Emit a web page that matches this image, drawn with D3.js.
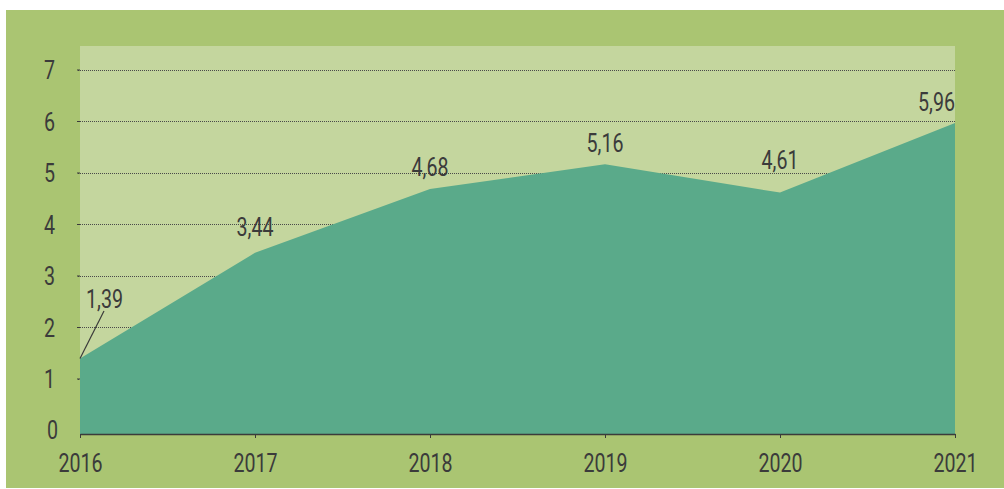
<!DOCTYPE html>
<html>
<head>
<meta charset="utf-8">
<script src="https://cdn.jsdelivr.net/npm/d3@7"></script>
<style>
  body { margin: 0; background: #ffffff; }
  text { font-family: "Roboto", "Liberation Sans", sans-serif; fill: #3b3b3b; }
</style>
</head>
<body>
<svg width="1004" height="489"></svg>
<script>
// chart data
var years = [2016, 2017, 2018, 2019, 2020, 2021];
var values = [1.39, 3.44, 4.68, 5.16, 4.61, 5.96];
var valueLabels = ['1,39', '3,44', '4,68', '5,16', '4,61', '5,96'];
var yTicks = [0, 1, 2, 3, 4, 5, 6, 7];

var svg = d3.select('svg');
var plot = {left: 80, right: 955, top: 46, bottom: 434};
var fontSize = '25px';

// outer frame + plot background
svg.append('rect')
    .attr('x', 6).attr('y', 10)
    .attr('width', 998).attr('height', 478)
    .style('fill', '#aac572');
svg.append('rect')
    .attr('x', plot.left).attr('y', plot.top)
    .attr('width', plot.right - plot.left).attr('height', plot.bottom - plot.top)
    .style('fill', '#c4d69e');

var xScale = d3.scalePoint()
    .domain(years)
    .range([plot.left, plot.right]);
var yScale = d3.scaleLinear()
    .domain([0, 7])
    .range([430, 69.5]);

// dotted gridlines
svg.append('g')
    .attr('class', 'y grid')
    .selectAll('line')
    .data(yTicks.filter(function(d) { return d > 0; }))
    .enter()
    .append('line')
    .attr('x1', plot.left - 2)
    .attr('x2', plot.right)
    .attr('y1', function(d) { return Math.round(yScale(d)) + 0.5; })
    .attr('y2', function(d) { return Math.round(yScale(d)) + 0.5; })
    .style('stroke', '#4a4a4a')
    .style('stroke-width', 1)
    .style('stroke-dasharray', '1,1');

// area
var area = d3.area()
    .x(function(d, i) { return xScale(years[i]); })
    .y0(plot.bottom)
    .y1(function(d) { return yScale(d); });

svg.append('path')
    .datum(values)
    .attr('d', area)
    .style('fill', '#5aaa8a');

// y axis labels
var yAxis = d3.axisLeft(yScale)
    .tickValues(yTicks.filter(function(d) { return d > 0; }))
    .tickSize(3)
    .tickPadding(22)
    .tickFormat(d3.format('d'));
var yG = svg.append('g')
    .attr('class', 'y axis')
    .attr('transform', 'translate(' + plot.left + ',0)')
    .call(yAxis);
yG.select('.domain').remove();
yG.selectAll('line').style('stroke', '#3b3b3b');
yG.selectAll('text')
    .style('font-size', fontSize)
    .style('font-family', null)
    .attr('fill', null)
    .attr('dy', '0.36em');
svg.append('text')
    .attr('x', plot.left - 22)
    .attr('y', plot.bottom - 4)
    .attr('dy', '0.36em')
    .attr('text-anchor', 'end')
    .style('font-size', fontSize)
    .text(yTicks[0]);

// x axis
var xAxis = d3.axisBottom(xScale)
    .tickSize(4)
    .tickSizeOuter(0)
    .tickPadding(16);
var xG = svg.append('g')
    .attr('class', 'x axis')
    .attr('transform', 'translate(0,' + plot.bottom + ')')
    .call(xAxis);
xG.select('.domain').style('stroke', '#3b3b3b').style('stroke-width', 1.5);
xG.selectAll('line').style('stroke', '#3b3b3b');
xG.selectAll('text')
    .style('font-size', fontSize)
    .style('font-family', null)
    .attr('fill', null);

// value labels
var labelDy = [0, -17, -13, -12, -24, -12];
svg.append('g')
    .attr('class', 'value-labels')
    .selectAll('text')
    .data(values)
    .enter()
    .append('text')
    .attr('x', function(d, i) {
        if (i === 0) return xScale(years[i]) + 24.5;
        return xScale(years[i]);
    })
    .attr('y', function(d, i) {
        if (i === 0) return 308;
        return yScale(d) + labelDy[i];
    })
    .attr('text-anchor', function(d, i) {
        return i === values.length - 1 ? 'end' : 'middle';
    })
    .style('font-size', fontSize)
    .text(function(d, i) { return valueLabels[i]; });

// leader line for the first label
svg.append('line')
    .attr('x1', xScale(years[0]))
    .attr('y1', yScale(values[0]))
    .attr('x2', xScale(years[0]) + 24)
    .attr('y2', 311)
    .style('stroke', '#3b3b3b')
    .style('stroke-width', 1.2);

// condensed look: squeeze the glyphs horizontally
svg.selectAll('text').each(function() {
    var w = this.getComputedTextLength();
    d3.select(this)
        .attr('textLength', w * 0.785)
        .attr('lengthAdjust', 'spacingAndGlyphs');
});
</script>
</body>
</html>
